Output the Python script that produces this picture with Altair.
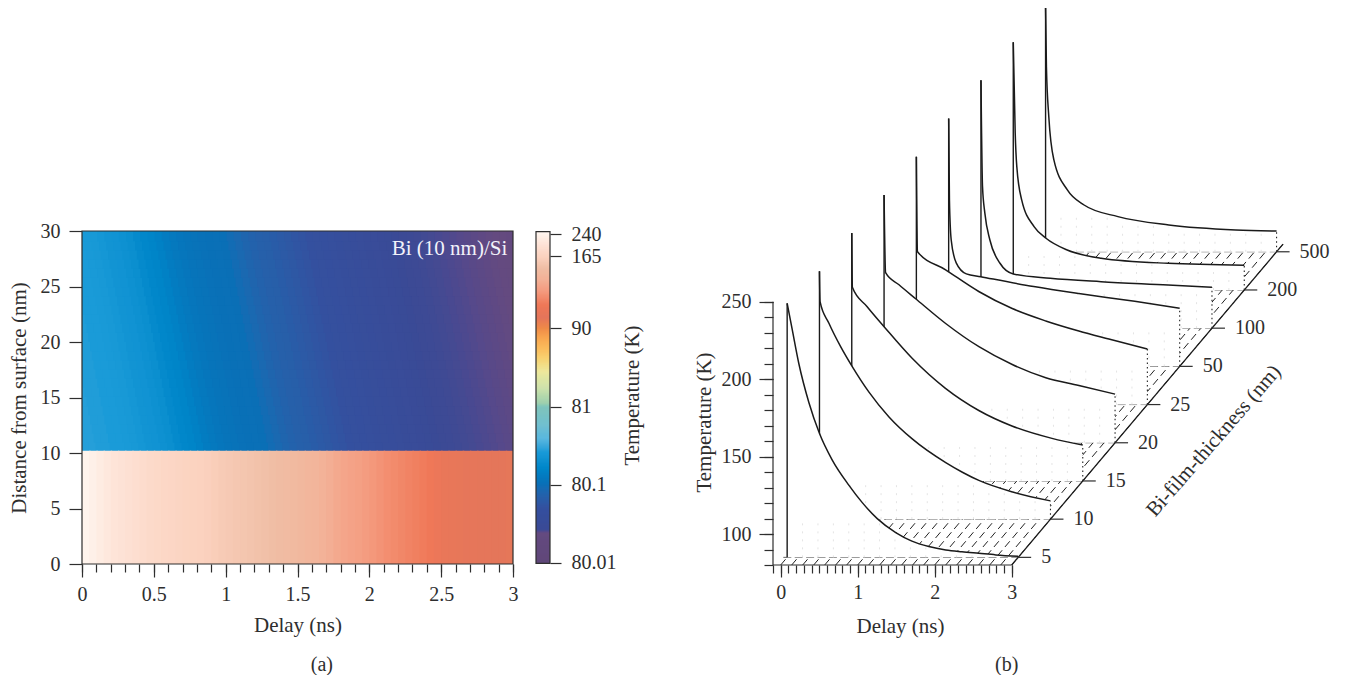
import altair as alt
import numpy as np
import pandas as pd

FONT = "Liberation Serif"
INK = "#2e2e2e"
FS = 20
TS = 21

# ---------- panel (a) values ----------
# temperature along the slanted profile of the substrate (K), every 0.05 ns
SI_PROFILE = [80.50, 80.50, 80.49, 80.49, 80.48, 80.48,
              80.47, 80.46, 80.44, 80.42, 80.41, 80.39, 80.37, 80.33, 80.30, 80.28,
              80.25, 80.21, 80.18, 80.16, 80.14, 80.13, 80.12, 80.11, 80.105, 80.10,
              80.097, 80.094, 80.091, 80.088, 80.086, 80.085, 80.083, 80.081, 80.079, 80.077,
              80.075, 80.073, 80.071, 80.069, 80.067, 80.065, 80.063, 80.061, 80.059, 80.057,
              80.055, 80.053, 80.051, 80.049, 80.0479, 80.0478, 80.0477, 80.0475, 80.0473, 80.0470,
              80.0467, 80.0463, 80.0459, 80.0455, 80.0451, 80.0447, 80.0443, 80.0440, 80.0400, 80.0360]
# temperature in the Bi film (K), every 0.05 ns
BI_PROFILE = [240, 232, 224, 216, 208, 203, 198, 193, 188, 184,
              180, 177, 174, 171, 168, 166, 164.5, 163, 161.5, 160,
              159, 158, 157, 156, 155, 154, 152.6, 151, 150, 148.5,
              147, 145.5, 144, 142, 139, 136, 134, 132.5, 131, 129,
              127, 125, 123, 121.5, 120, 118.5, 117, 115.5, 114, 110,
              107, 105, 104, 103, 102.5, 102, 101.5, 101, 100.5, 100]
CB_TICKS = [240, 165, 90, 81, 80.1, 80.01]
COLOR_T = [80.00, 80.044, 80.048, 80.0728, 80.086, 80.1, 80.29, 80.48, 80.635, 80.79, 80.94,
           81.39, 83.14, 85.0, 86.6, 87.7, 89, 90, 100.4, 114, 128, 140, 152.6, 164, 214, 248]
COLOR_C = ["#5f4778", "#644a80", "#3a4a96", "#34509f", "#2660aa", "#0a6fb6", "#0086c9", "#1a9bd8",
           "#5ab8df", "#72bfd0", "#7cc3c0", "#9ecfae", "#cfe2ac", "#eee89c", "#f9d070", "#fbbb5c",
           "#f8a34f", "#ee8a48", "#e4765a", "#ef7858", "#f49a7e", "#f3b096", "#f0bea5", "#fbd2bf",
           "#fee7dc", "#fff8f3"]

# ---------- panel (b) values: delay (ns) and temperature (K) per film ----------
THICK = [5, 10, 15, 20, 25, 50, 100, 200, 500]
T_DELAY = {
    5: [0, .066, .152, .282, .42, .584, .803, .973, 1.17, 1.41, 1.62, 1.84, 2.06, 2.27, 2.49, 2.71, 3],
    10: [0, .008, .123, .275, .426, .643, .903, 1.205, 1.64, 1.856, 2.07, 2.51, 3],
    15: [0, .008, .2, .42, .784, 1.217, 1.65, 2.08, 2.6, 3],
    20: [0, .02, .194, .41, .8, 1.232, 1.665, 2.1, 2.53, 3],
    25: [0, .015, .38, .81, 1.245, 1.68, 2.11, 2.5, 3],
    50: [0, .01, .033, .098, .229, .417, 1.104, 1.69, 2.416, 3],
    100: [0, .02, .05, .116, .247, .42, .9, 1.56, 2.43, 3],
    200: [0, .025, .046, .11, .27, .425, .70, 1.14, 2.01, 3],
    500: [0, .011, .042, .108, .283, .5, .94, 1.6, 2.47, 3],
}
T_KELVIN = {
    5: [244, 227, 205, 180, 160, 143, 126.5, 115.5, 105, 96, 90.5, 87, 84.8, 83.6, 82.6, 81.6, 80.7],
    10: [240, 220.4, 206.5, 191.4, 178.5, 162, 146, 131.8, 116.5, 110.3, 105, 97.5, 91.8],
    15: [240, 205, 192.5, 179.6, 159.2, 139.8, 125.5, 115.5, 107.5, 103.2],
    20: [240, 189.8, 182, 173, 157, 142, 130.5, 122, 117, 111.4],
    25: [240, 178.7, 167, 153, 142, 134, 127.5, 122.3, 115.8],
    50: [240, 187.4, 161.6, 146.8, 139.7, 137.9, 131.5, 127, 122, 117.5],
    100: [240, 171.4, 154.4, 136.9, 121.9, 115, 112.2, 110, 107.9, 106.4],
    200: [240, 181.4, 159.6, 138, 120.9, 113.4, 105.8, 100.5, 97.2, 96],
    500: [240, 199.5, 167.2, 139.3, 119.9, 110.2, 102.7, 97.3, 94.1, 93.4],
}

# ---------- panel (a) ----------
rows = []
NROW = 24
for k in range(NROW):           # k = 0 is the row next to the interface
    lo = 10.2 + k * 19.8 / NROW
    shift = .3 * (1 - (k + .5) / NROW)   # the contours lean over depth
    for j, v in enumerate(SI_PROFILE):
        a, b = (j - 6) * .05 + shift, (j - 5) * .05 + shift + .01
        if b > 0 and a < 3:
            rows.append(dict(x0=max(a, 0), x1=min(b, 3), y0=lo - .1, y1=lo + 19.8 / NROW, T=v))
for j, v in enumerate(BI_PROFILE):
    rows.append(dict(x0=j * .05, x1=min(3, (j + 1) * .05 + .01), y0=0, y1=10.2, T=v))
heat_df = pd.DataFrame(rows)

col_scale = alt.Scale(domain=COLOR_T, range=COLOR_C, clamp=True)
ax_common = dict(grid=False, domain=False, tickColor=INK, tickWidth=1.2, labelColor=INK, titleColor=INK,
                 labelFont=FONT, titleFont=FONT, labelFontSize=FS, titleFontSize=TS, titleFontWeight="normal")

xa_s = alt.Scale(domain=[0, 3], nice=False)
ya_s = alt.Scale(domain=[0, 30], range=[556, 223], nice=False)
heat = alt.Chart(heat_df).mark_rect().encode(
    x=alt.X("x0:Q", scale=xa_s, axis=alt.Axis(values=[0, .5, 1, 1.5, 2, 2.5, 3], tickSize=13, offset=-1,
                                              orient="bottom", title="Delay (ns)", labelPadding=7, titlePadding=10,
                                              format="~g", labelFlush=False, **ax_common)),
    x2="x1:Q",
    y=alt.Y("y0:Q", scale=ya_s, axis=alt.Axis(values=[0, 5, 10, 15, 20, 25, 30], tickSize=13, orient="left",
                                              title="Distance from surface (nm)", labelPadding=9, titlePadding=11,
                                              **ax_common)),
    y2="y1:Q",
    color=alt.Color("T:Q", scale=col_scale, legend=None),
)
minor_a = alt.Chart(pd.DataFrame({"x0": [0, 3], "y0": [0, 0]})).mark_point(opacity=0).encode(
    x=alt.X("x0:Q", scale=xa_s, axis=alt.Axis(values=[i / 10 for i in range(31)], tickSize=8, labels=False,
                                              orient="bottom", title=None, offset=-1, grid=False, domain=False,
                                              tickColor=INK, tickWidth=1.2)),
    y=alt.Y("y0:Q", scale=ya_s, axis=None),
)
frame_df = pd.DataFrame({"x0": [0], "x1": [3], "y0": [0], "y1": [30]})
frame_a = alt.Chart(frame_df).mark_rect(fillOpacity=0, stroke=INK, strokeWidth=1.2).encode(
    x=alt.X("x0:Q", scale=xa_s, axis=None), x2="x1:Q",
    y=alt.Y("y0:Q", scale=ya_s, axis=None), y2="y1:Q")
bi_label = alt.Chart(pd.DataFrame({"x": [2.96], "y": [28.4], "t": ["Bi (10 nm)/Si"]})).mark_text(
    font=FONT, fontSize=TS, color="#f2f2fa", align="right", baseline="middle").encode(
    x=alt.X("x:Q", scale=xa_s, axis=None), y=alt.Y("y:Q", scale=ya_s, axis=None), text="t:N")
cap_a = alt.Chart(pd.DataFrame({"x": [1.67], "t": ["(a)"]})).mark_text(
    font=FONT, fontSize=20, color=INK, align="center", baseline="middle").encode(
    x=alt.X("x:Q", scale=xa_s, axis=None), y=alt.value(657), text="t:N")
panel_a = alt.layer(heat, minor_a, frame_a, bi_label, cap_a).resolve_axis(x="independent", y="independent").properties(
    width=431, height=557)

# ---------- colour bar ----------
cb_dom = [80.00, 80.01, 80.1, 81, 90, 165, 240, 248]
cb_rng = [555.3, 554.7, 476.7, 398.7, 320, 248, 226, 223.7]
cb_s = alt.Scale(domain=cb_dom, range=cb_rng, nice=False, zero=False)
edges = np.interp(np.arange(223.7, 557.3, 1.0), cb_rng[::-1], cb_dom[::-1])
cb_df = pd.DataFrame({"T0": edges[:-2], "T1": edges[2:], "a": 0, "b": 1})
cb_df["T"] = (edges[:-2] + edges[1:-1]) / 2
cb_x = alt.Scale(domain=[0, 1])
bar = alt.Chart(cb_df).mark_rect().encode(
    x=alt.X("a:Q", scale=cb_x, axis=None), x2="b:Q",
    y=alt.Y("T0:Q", scale=cb_s, axis=alt.Axis(values=CB_TICKS, orient="right", tickSize=11, labelPadding=10,
                                              labelExpr="'' + datum.value", title="Temperature (K)", titleAngle=270,
                                              titlePadding=26, titleY=387, **ax_common)),
    y2="T1:Q",
    color=alt.Color("T:Q", scale=col_scale, legend=None),
)
frame_cb = alt.Chart(pd.DataFrame({"a": [0], "b": [1], "T0": [80.0], "T1": [248.0]})).mark_rect(
    fillOpacity=0, stroke=INK, strokeWidth=1.2).encode(
    x=alt.X("a:Q", scale=cb_x, axis=None), x2="b:Q",
    y=alt.Y("T0:Q", scale=cb_s, axis=None), y2="T1:Q")
panel_cb = alt.layer(bar, frame_cb).resolve_axis(y="independent").properties(width=14, height=557)

# ---------- panel (b) ----------
K, L = .4195, 24.66
W, H = 556, 557
xb_s = alt.Scale(domain=[-.1, -.1 + W / 77], nice=False, zero=False)
yb_s = alt.Scale(domain=[80, 80 + H / 1.549], nice=False, zero=False, clamp=True)
XB = alt.X("x:Q", scale=xb_s, axis=None)
YB = alt.Y("y:Q", scale=yb_s, axis=None)


def dx(i):
    return K * (i + .2)


def dy(i):
    return L * (i + .2)


def seg(df, **mk):
    return alt.Chart(df).mark_rule(**mk).encode(x=XB, x2="x2:Q", y=YB, y2="y2:Q")


layers = []
# hatched floor
hatch = pd.DataFrame([dict(x=t, y=80, x2=t + K * 8.4, y2=80 + L * 8.4) for t in np.arange(0, 3.01, 1 / 7)])
layers.append(seg(hatch, color="#222222", strokeWidth=1, strokeDash=[7.5, 4.3]))

for i, th in reversed(list(enumerate(THICK))):
    ts = np.array(T_DELAY[th], float)
    Ts = np.array(T_KELVIN[th], float)
    d = pd.DataFrame({"x": ts + dx(i), "y": Ts + dy(i), "y2": 80 + dy(i)})
    base = pd.DataFrame([dict(x=dx(i) - .05, x2=3 + dx(i), y=80 + dy(i), y2=80 + dy(i))])
    layers.append(seg(base, color="#666666", strokeWidth=1, strokeDash=[8, 3.4]))
    layers.append(alt.Chart(d).mark_area(color="white", interpolate="monotone").encode(x=XB, y=YB, y2="y2:Q"))
    # faint dotted wall lines under the curve
    wall = []
    for t in np.arange(.2, 2.81, .2):
        top = np.interp(t, ts, Ts)
        if top > 82:
            wall.append(dict(x=t + dx(i), x2=t + dx(i), y=80 + dy(i), y2=min(top - 1.5, 80 + L) + dy(i)))
    if wall:
        layers.append(seg(pd.DataFrame(wall), color="#e4e4e4", strokeWidth=1, strokeDash=[2, 6]))
    layers.append(alt.Chart(d).mark_line(color="#1a1a1a", strokeWidth=1.5, interpolate="monotone").encode(x=XB, y=YB))
    spike = pd.DataFrame([dict(x=dx(i), x2=dx(i), y=80 + dy(i), y2=Ts[0] + dy(i))])
    layers.append(seg(spike, color="#1a1a1a", strokeWidth=1.4))
    end = pd.DataFrame([dict(x=3 + dx(i), x2=3 + dx(i), y=80 + dy(i), y2=Ts[-1] + dy(i))])
    layers.append(seg(end, color="#222222", strokeWidth=1.1, strokeDash=[1.5, 3]))

# axes of panel (b)
dummy = pd.DataFrame({"x": [-.1, 3], "y": [80, 80]})
ax_x_major = alt.Chart(dummy).mark_point(opacity=0).encode(
    x=alt.X("x:Q", scale=xb_s, axis=alt.Axis(values=[0, 1, 2, 3], tickSize=12, labelPadding=5, orient="bottom",
                                             title="Delay (ns)", titleX=127, titleY=50, **ax_common)),
    y=alt.Y("y:Q", scale=yb_s, axis=alt.Axis(values=[100, 150, 200, 250], tickSize=14, labelPadding=8, orient="left",
                                             title="Temperature (K)", titleX=-59, titleY=414, **ax_common)),
)
ax_lines = [
    seg(pd.DataFrame([dict(x=-.1, x2=3, y=80, y2=80)]), color=INK, strokeWidth=1.2),
    seg(pd.DataFrame([dict(x=-.1, x2=-.1, y=80, y2=250)]), color=INK, strokeWidth=1.2),
    seg(pd.DataFrame([dict(x=3, x2=3 + K * 8.4, y=80, y2=80 + L * 8.4)]), color="#1c1c1c", strokeWidth=1.3),
]
ax_x_minor = alt.Chart(dummy).mark_point(opacity=0).encode(
    x=alt.X("x:Q", scale=xb_s, axis=alt.Axis(values=[(i - 1) / 10 for i in range(32)], tickSize=8, labels=False,
                                             orient="bottom", title=None, grid=False, domain=False, tickColor=INK,
                                             tickWidth=1.2)),
    y=alt.Y("y:Q", scale=yb_s, axis=alt.Axis(values=list(range(80, 251, 10)), tickSize=9, labels=False,
                                             orient="left", title=None, grid=False, domain=False, tickColor=INK,
                                             tickWidth=1.2)),
)
depth = pd.DataFrame([dict(x=3 + dx(i), x2=3 + dx(i) + 13 / 77, y=80 + dy(i), y2=80 + dy(i),
                           xt=3 + dx(i) + (13 + 10) / 77, t=str(th)) for i, th in enumerate(THICK)])
depth_ticks = seg(depth, color=INK, strokeWidth=1.2)
depth_labels = alt.Chart(depth).mark_text(font=FONT, fontSize=FS, color=INK, align="left", baseline="middle").encode(
    x=alt.X("xt:Q", scale=xb_s, axis=None), y=YB, text="t:N")
depth_title = alt.Chart(pd.DataFrame({"x": [5.627], "y": [160], "t": ["Bi-film-thickness (nm)"]})).mark_text(
    font=FONT, fontSize=TS, color=INK, angle=311, align="center", baseline="middle").encode(x=XB, y=YB, text="t:N")
cap_b = alt.Chart(pd.DataFrame({"x": [2.935], "t": ["(b)"]})).mark_text(
    font=FONT, fontSize=20, color=INK, align="center", baseline="middle").encode(
    x=XB, y=alt.value(657), text="t:N")

panel_b = alt.layer(ax_x_major, ax_x_minor, *layers, *ax_lines, depth_ticks, depth_labels, depth_title, cap_b
                    ).resolve_axis(x="independent", y="independent").properties(width=W, height=H)

chart = alt.hconcat(alt.hconcat(panel_a, panel_cb, spacing=17), panel_b, spacing=51).properties(
    padding={"left": 0, "top": -3, "right": 0, "bottom": 0}, background="white").configure_view(stroke=None)

chart.save("out.html", embed_options={"renderer": "svg", "actions": False})
